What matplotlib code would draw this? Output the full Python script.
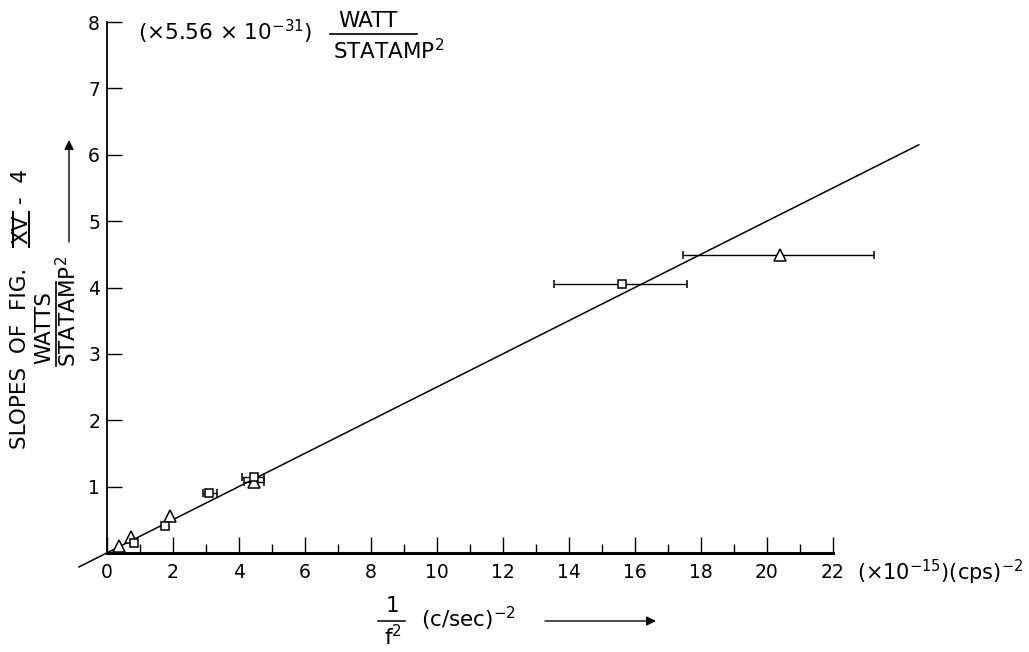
import matplotlib
matplotlib.use("Agg")
import matplotlib.pyplot as plt
from matplotlib.lines import Line2D
from matplotlib.ticker import MultipleLocator

# ---- data ----
tri_x = [0.36, 0.72, 1.9, 4.45, 20.4]
tri_y = [0.11, 0.24, 0.55, 1.07, 4.49]
tri_xerr_lo = [0.0, 0.0, 0.0, 0.3, 2.96]
tri_xerr_hi = [0.0, 0.0, 0.0, 0.3, 2.84]

sq_x = [0.83, 1.77, 3.1, 4.45, 15.62]
sq_y = [0.15, 0.41, 0.90, 1.14, 4.05]
sq_xerr_lo = [0.0, 0.0, 0.18, 0.35, 2.07]
sq_xerr_hi = [0.0, 0.0, 0.24, 0.31, 1.96]

fit_x = [-0.85, 24.6]
fit_y = [-0.21, 6.15]

x_ticks = list(range(0, 23, 2))
y_ticks = [1, 2, 3, 4, 5, 6, 7, 8]

W, H = 1029, 652
fig = plt.figure(figsize=(W / 100, H / 100), dpi=100)
plt.rcParams['font.family'] = ['DejaVu Sans']
plt.rcParams['mathtext.fontset'] = 'dejavusans'

def P(x, y):
    return (x / W, 1 - y / H)

ax = fig.add_axes([107 / W, 1 - 553 / H, (833 - 107) / W, (553 - 22) / H])
ax.set_xlim(0, 22)
ax.set_ylim(0, 8)
for s in ["top", "right"]:
    ax.spines[s].set_visible(False)
ax.spines["left"].set_linewidth(1.3)
ax.spines["bottom"].set_linewidth(2.2)

ax.set_xticks(x_ticks)
ax.set_xticklabels([str(v) for v in x_ticks])
ax.xaxis.set_minor_locator(MultipleLocator(1))
ax.set_yticks(y_ticks)
ax.set_yticklabels([str(v) for v in y_ticks])
ax.tick_params(axis="x", which="major", direction="in", length=11.5, width=1.0,
               pad=7, labelsize=13.5)
ax.tick_params(axis="x", which="minor", direction="in", length=6.5, width=1.0)
ax.tick_params(axis="y", which="major", direction="in", length=10.5, width=1.0,
               pad=5, labelsize=13.5)

# fit line
ax.plot(fit_x, fit_y, color="black", lw=1.1, clip_on=False, zorder=2)

# data points
ax.errorbar(tri_x, tri_y, xerr=[tri_xerr_lo, tri_xerr_hi], fmt="^", ms=8,
            mfc="white", mec="black", mew=1.1, ecolor="black", elinewidth=1.0,
            capsize=3, capthick=1.0, clip_on=False, zorder=3)
ax.errorbar(sq_x, sq_y, xerr=[sq_xerr_lo, sq_xerr_hi], fmt="s", ms=6,
            mfc="white", mec="black", mew=1.1, ecolor="black", elinewidth=1.0,
            capsize=3, capthick=1.0, clip_on=False, zorder=3)

# ---- annotations ----
fs = 15.5
# top unit note
fig.text(*P(138, 32), r"(×5.56 × 10$^{-31}$)", fontsize=fs, ha="left", va="center")
fig.text(*P(368, 21), "WATT", fontsize=fs, ha="center", va="center")
fig.add_artist(Line2D([330 / W, 417 / W], [1 - 34 / H, 1 - 34 / H], color="black", lw=1.2))
fig.text(*P(389, 51), r"STATAMP$^{2}$", fontsize=fs, ha="center", va="center")

# x-axis unit at right end
fig.text(*P(857, 572), r"(×10$^{-15}$)(cps)$^{-2}$", fontsize=15, ha="left", va="center")

# x label
fig.text(*P(393, 606), "1", fontsize=fs, ha="center", va="center")
fig.add_artist(Line2D([378 / W, 405 / W], [1 - 621 / H, 1 - 621 / H], color="black", lw=1.1))
fig.text(*P(393, 637), r"f$^{2}$", fontsize=fs, ha="center", va="center")
fig.text(*P(421, 619), r"(c/sec)$^{-2}$", fontsize=fs, ha="left", va="center")
ax.annotate("", xy=P(656, 621), xytext=P(545, 621), xycoords="figure fraction",
            textcoords="figure fraction", annotation_clip=False,
            arrowprops=dict(arrowstyle="-|>", color="black", lw=1.0,
                            mutation_scale=14, shrinkA=0, shrinkB=0))

# y label
fig.text(*P(20, 358), "SLOPES  OF  FIG.", fontsize=fs, rotation=90, ha="center", va="center")
fig.text(*P(21, 229), "XV", fontsize=fs, rotation=90, ha="center", va="center")
fig.add_artist(Line2D([13 / W, 13 / W], [1 - 247 / H, 1 - 212 / H], color="black", lw=1.4))
fig.add_artist(Line2D([29 / W, 29 / W], [1 - 247 / H, 1 - 212 / H], color="black", lw=1.4))
fig.text(*P(21, 186), "-  4", fontsize=fs, rotation=90, ha="center", va="center")

fig.text(*P(44, 328), "WATTS", fontsize=fs, rotation=90, ha="center", va="center")
fig.add_artist(Line2D([56 / W, 56 / W], [1 - 366 / H, 1 - 282 / H], color="black", lw=1.2))
fig.text(*P(68, 311), r"STATAMP$^{2}$", fontsize=fs, rotation=90, ha="center", va="center")
ax.annotate("", xy=P(69, 140), xytext=P(69, 242), xycoords="figure fraction",
            textcoords="figure fraction", annotation_clip=False,
            arrowprops=dict(arrowstyle="-|>", color="black", lw=1.0,
                            mutation_scale=14, shrinkA=0, shrinkB=0))

fig.savefig("out.png", dpi=100)
